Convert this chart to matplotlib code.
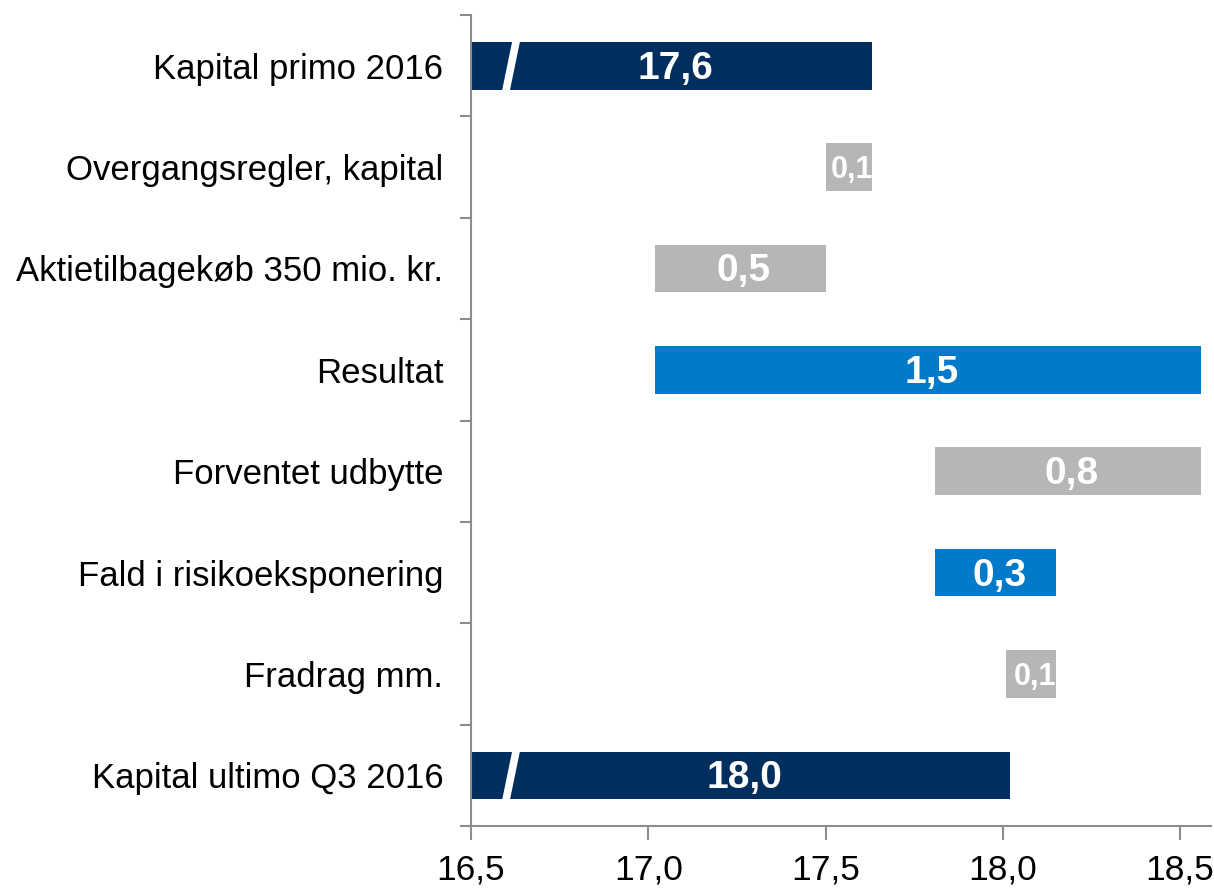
import matplotlib
matplotlib.use("Agg")
import matplotlib.pyplot as plt
from matplotlib.ticker import FixedLocator

plt.rcParams['font.family'] = ['Liberation Sans', 'DejaVu Sans']

# Data (mia. kr.)
categories = [
    "Kapital primo 2016",
    "Overgangsregler, kapital",
    "Aktietilbagekøb 350 mio. kr.",
    "Resultat",
    "Forventet udbytte",
    "Fald i risikoeksponering",
    "Fradrag mm.",
    "Kapital ultimo Q3 2016",
]
bar_start = [16.5, 17.50, 17.02, 17.02, 17.81, 17.81, 18.01, 16.5]
bar_end = [17.63, 17.63, 17.50, 18.56, 18.56, 18.15, 18.15, 18.02]
value_labels = ["17,6", "0,1", "0,5", "1,5", "0,8", "0,3", "0,1", "18,0"]
bar_kind = ["total", "neg", "neg", "pos", "neg", "pos", "neg", "total"]
x_ticks = [16.5, 17.0, 17.5, 18.0, 18.5]
x_ticklabels = ["16,5", "17,0", "17,5", "18,0", "18,5"]

colors = {"total": "#002F5F", "pos": "#007AC9", "neg": "#B5B6B8"}
axis_grey = "#8C8C8C"
bar_h = 0.47

fig = plt.figure(figsize=(12.14, 8.88), dpi=100)
ax = fig.add_axes([0.388, 0.0698, 0.6095, 0.9133])

ypos = list(range(len(categories)))
for y, s, e, lab, kind in zip(ypos, bar_start, bar_end, value_labels, bar_kind):
    ax.barh(y, e - s, left=s, height=bar_h, color=colors[kind], zorder=2)
    small = (e - s) < 0.2
    ax.text((s + e) / 2 + 0.01, y + 0.03, lab, ha="center", va="center",
            color="white", fontweight="bold",
            fontsize=22 if small else 28, zorder=4)
    if kind == "total":
        # axis break mark on the long total bars
        ax.plot([16.598, 16.628], [y + bar_h / 2 + 0.02, y - bar_h / 2 - 0.02],
                color="white", lw=5.5, solid_capstyle="butt", zorder=3)

ax.set_ylim(len(categories) - 0.5, -0.5)
ax.set_xlim(16.5, 18.587)

ax.set_yticks(ypos)
ax.set_yticklabels(categories, fontsize=25)
ax.yaxis.set_minor_locator(FixedLocator([i - 0.5 for i in range(len(categories) + 1)]))
ax.tick_params(axis="y", which="major", length=0, pad=20)
ax.tick_params(axis="y", which="minor", length=8, width=1.5, color=axis_grey)

ax.set_xticks(x_ticks)
ax.set_xticklabels(x_ticklabels, fontsize=25.5)
ax.tick_params(axis="x", length=10, width=1.5, color=axis_grey, pad=10)

for side in ["top", "right"]:
    ax.spines[side].set_visible(False)
for side in ["left", "bottom"]:
    ax.spines[side].set_color(axis_grey)
    ax.spines[side].set_linewidth(1.5)

fig.savefig("out.png", dpi=100)
